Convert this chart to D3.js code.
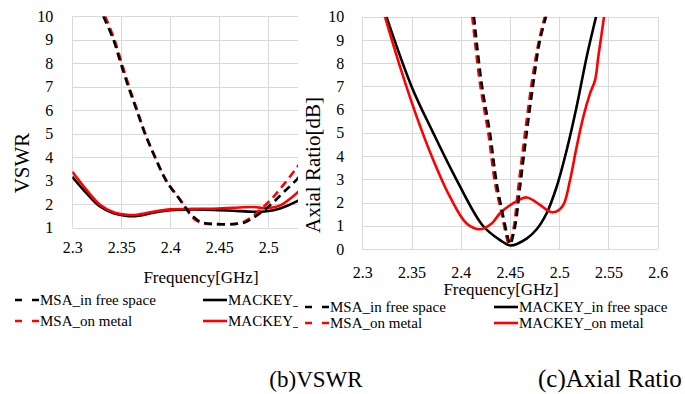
<!DOCTYPE html>
<html>
<head>
<meta charset="utf-8">
<script src="https://cdn.jsdelivr.net/npm/d3@7"></script>
<style>
  html, body { margin: 0; padding: 0; background: #fff; }
  text { font-family: "Liberation Serif", "Times New Roman", serif; fill: #000; }
</style>
</head>
<body>
<svg id="chart" width="685" height="394"></svg>
<script>
// ---- data ----
const seriesNames = ['MSA_in free space', 'MSA_on metal', 'MACKEY_in free space', 'MACKEY_on metal'];
const seriesColors = ['#000', '#f00', '#000', '#f00'];
const seriesDashed = [true, true, false, false];

// (b) VSWR
const vswrFreqMsaFree = [2.3316, 2.342, 2.3494, 2.3572, 2.3657, 2.3742, 2.3844, 2.3963, 2.41, 2.42, 2.4303, 2.444, 2.4643, 2.4745, 2.4847, 2.495, 2.5051, 2.5153, 2.529, 2.54];
const vswrMsaFree     = [10, 9.0, 8.0, 7.0, 6.0, 5.0, 4.0, 2.96, 2.18, 1.62, 1.26, 1.16, 1.16, 1.2, 1.42, 1.72, 2.08, 2.5, 3.05, 3.6];
const vswrFreqMsaMetal = [2.3335, 2.343, 2.3505, 2.358, 2.3662, 2.3745, 2.3845, 2.396, 2.41, 2.418, 2.425, 2.435, 2.45, 2.465, 2.475, 2.485, 2.495, 2.505, 2.515, 2.529, 2.54];
const vswrMsaMetal     = [10, 9.0, 8.0, 7.0, 6.0, 5.0, 4.0, 3.0, 2.2, 1.7, 1.35, 1.18, 1.15, 1.15, 1.25, 1.52, 1.88, 2.3, 2.8, 3.55, 4.2];
const vswrFreqMackey = [2.3, 2.3147, 2.3283, 2.342, 2.3555, 2.366, 2.3827, 2.4, 2.4248, 2.449, 2.4646, 2.4847, 2.4984, 2.512, 2.529, 2.54];
const vswrMackeyFree  = [3.17, 2.46, 1.9, 1.61, 1.5, 1.5, 1.64, 1.75, 1.78, 1.75, 1.72, 1.68, 1.7, 1.82, 2.12, 2.4];
const vswrMackeyMetal = [3.38, 2.6, 1.98, 1.66, 1.55, 1.55, 1.68, 1.78, 1.8, 1.82, 1.85, 1.88, 1.83, 1.95, 2.47, 2.9];

// (c) Axial ratio
const arFreqMsaFree = [2.4134, 2.4212, 2.4297, 2.4365, 2.4432, 2.4475, 2.45, 2.4551, 2.4602, 2.4669, 2.4737, 2.4805, 2.4906];
const arMsaFree     = [10, 7.13, 4.98, 2.83, 1.39, 0.55, 0.2, 0.96, 2.68, 4.98, 7.13, 9.0, 10.6];
const arFreqMsaMetal = [2.4117, 2.4195, 2.428, 2.4348, 2.4415, 2.4466, 2.449, 2.4534, 2.4585, 2.4652, 2.472, 2.4788, 2.4872];
const arMsaMetal     = [10, 7.13, 4.98, 2.83, 1.54, 0.5, 0.2, 0.82, 2.68, 4.98, 7.13, 8.85, 10.3];
const arFreqMackeyFree = [2.3245, 2.35, 2.372, 2.3955, 2.4225, 2.44, 2.4505, 2.4669, 2.4771, 2.4872, 2.4974, 2.5076, 2.5177, 2.5279, 2.5374];
const arMackeyFree     = [10, 7.0, 5.0, 3.0, 1.0, 0.38, 0.15, 0.45, 0.85, 1.54, 2.68, 4.26, 6.13, 8.28, 10];
const arFreqMackeyMetal = [2.323, 2.3383, 2.3552, 2.3721, 2.389, 2.406, 2.4195, 2.4314, 2.4398, 2.4534, 2.4669, 2.4805, 2.4906, 2.4974, 2.5042, 2.511, 2.5177, 2.5245, 2.5313, 2.5364, 2.5397, 2.5431, 2.5455];
const arMackeyMetal     = [10, 7.85, 5.7, 3.83, 2.25, 1.1, 0.85, 1.1, 1.54, 1.97, 2.22, 1.9, 1.6, 1.62, 1.9, 2.97, 4.4, 5.7, 6.7, 7.27, 8.28, 9.28, 10];

const vswrTicksX = [2.3, 2.35, 2.4, 2.45, 2.5];
const vswrGridX = [2.3, 2.35, 2.4, 2.45, 2.5, 2.55];
const vswrTicksY = [1, 2, 3, 4, 5, 6, 7, 8, 9, 10];
const arTicksX = [2.3, 2.35, 2.4, 2.45, 2.5, 2.55, 2.6];
const arTicksY = [0, 1, 2, 3, 4, 5, 6, 7, 8, 9, 10];

const zip = (xs, ys) => xs.map((x, i) => [x, ys[i]]);

const svg = d3.select('#chart');
const grid = '#d9d9d9';
const FONT = '"Liberation Serif", "Times New Roman", serif';

function drawPanel(g, o) {
  const { x, y, gridX, labelsX, ticksY, series, clipId, padY, padX } = o;
  const [x0, x1] = x.range();
  const [y0, y1] = y.range();

  g.append('clipPath').attr('id', clipId)
    .append('rect').attr('x', x0).attr('y', y1).attr('width', x1 - x0).attr('height', y0 - y1);

  // gridlines
  g.append('g').selectAll('line').data(ticksY).join('line')
    .attr('x1', x0).attr('x2', x1)
    .attr('y1', d => Math.round(y(d)) + 0.5).attr('y2', d => Math.round(y(d)) + 0.5)
    .attr('stroke', grid).attr('stroke-width', 1);
  g.append('g').selectAll('line').data(gridX).join('line')
    .attr('y1', y0).attr('y2', y1)
    .attr('x1', d => Math.round(x(d)) + 0.5).attr('x2', d => Math.round(x(d)) + 0.5)
    .attr('stroke', grid).attr('stroke-width', 1);

  // tick labels via axes
  const ax = g.append('g').attr('transform', `translate(${x0},0)`)
    .call(d3.axisLeft(y).tickValues(ticksY).tickSize(0).tickPadding(padY).tickFormat(d3.format('')));
  const bx = g.append('g').attr('transform', `translate(0,${y0})`)
    .call(d3.axisBottom(x).tickValues(labelsX).tickSize(0).tickPadding(padX).tickFormat(d => String(+d.toFixed(2))));
  [ax, bx].forEach(a => {
    a.select('.domain').remove();
    a.selectAll('text').attr('font-size', 16).style('font-family', FONT).attr('fill', '#000');
  });

  const line = d3.line().x(d => x(d[0])).y(d => y(d[1])).curve(d3.curveCatmullRom.alpha(0.5));
  g.append('g').attr('clip-path', `url(#${clipId})`)
    .selectAll('path').data(series).join('path')
    .attr('d', d => line(d.pts))
    .attr('fill', 'none')
    .attr('stroke', d => d.color)
    .attr('stroke-width', 2.6)
    .attr('stroke-dasharray', d => d.dashed ? '8,5' : null);
}

function drawLegend(g, items, cols, rows) {
  items.forEach((it, i) => {
    const c = cols[i < 2 ? 0 : 1], r = rows[i % 2];
    g.append('line').attr('x1', c).attr('x2', c + 24).attr('y1', r - 5).attr('y2', r - 5)
      .attr('stroke', it.color).attr('stroke-width', 2.6)
      .attr('stroke-dasharray', it.dashed ? '7,10' : null);
    g.append('text').attr('x', c + 25).attr('y', r).attr('font-size', 15).style('font-family', FONT).text(it.name);
  });
}

// ---- left panel (b) VSWR, cropped at the right edge ----
svg.append('clipPath').attr('id', 'leftCrop').append('rect').attr('x', 0).attr('y', 0).attr('width', 298).attr('height', 340);
const left = svg.append('g').attr('clip-path', 'url(#leftCrop)');
const xL = d3.scaleLinear().domain([2.3, 2.55]).range([72.3, 317.3]);
const yL = d3.scaleLinear().domain([1, 10]).range([227.7, 16.3]);
const vswrSeries = [
  { pts: zip(vswrFreqMackey, vswrMackeyFree), color: seriesColors[2], dashed: false },
  { pts: zip(vswrFreqMackey, vswrMackeyMetal), color: seriesColors[3], dashed: false },
  { pts: zip(vswrFreqMsaMetal, vswrMsaMetal), color: seriesColors[1], dashed: true },
  { pts: zip(vswrFreqMsaFree, vswrMsaFree), color: seriesColors[0], dashed: true }
];
drawPanel(left, { x: xL, y: yL, gridX: vswrGridX, labelsX: vswrTicksX, ticksY: vswrTicksY, series: vswrSeries, clipId: 'plotL', padY: 19, padX: 14 });
left.append('text').attr('transform', 'translate(29,163) rotate(-90)').attr('text-anchor', 'middle').attr('font-size', 21).style('font-family', FONT).text('VSWR');
left.append('text').attr('x', 201).attr('y', 283).attr('text-anchor', 'middle').attr('font-size', 17).style('font-family', FONT).text('Frequency[GHz]');
// the MACKEY entries are cut off by the panel crop, as in the source figure
drawLegend(left, ['MSA_in free space', 'MSA_on metal', 'MACKEY_', 'MACKEY_'].map((n, i) => ({ name: n, color: seriesColors[i], dashed: seriesDashed[i] })), [15, 203], [305, 326]);

// ---- right panel (c) Axial ratio ----
const right = svg.append('g');
const xR = d3.scaleLinear().domain([2.3, 2.6]).range([362.3, 657.7]);
const yR = d3.scaleLinear().domain([0, 10]).range([249, 16.7]);
const arSeries = [
  { pts: zip(arFreqMackeyFree, arMackeyFree), color: seriesColors[2], dashed: false },
  { pts: zip(arFreqMackeyMetal, arMackeyMetal), color: seriesColors[3], dashed: false },
  { pts: zip(arFreqMsaMetal, arMsaMetal), color: seriesColors[1], dashed: true },
  { pts: zip(arFreqMsaFree, arMsaFree), color: seriesColors[0], dashed: true }
];
drawPanel(right, { x: xR, y: yR, gridX: arTicksX, labelsX: arTicksX, ticksY: arTicksY, series: arSeries, clipId: 'plotR', padY: 18, padX: 18 });
right.append('text').attr('transform', 'translate(320,165) rotate(-90)').attr('text-anchor', 'middle').attr('font-size', 21).style('font-family', FONT).text('Axial Ratio[dB]');
right.append('text').attr('x', 501).attr('y', 295).attr('text-anchor', 'middle').attr('font-size', 17).style('font-family', FONT).text('Frequency[GHz]');
drawLegend(right, seriesNames.map((n, i) => ({ name: n, color: seriesColors[i], dashed: seriesDashed[i] })), [305, 494], [312, 328]);

// captions
svg.append('text').attr('x', 316).attr('y', 387).attr('text-anchor', 'middle').attr('font-size', 23).style('font-family', FONT).text('(b)VSWR');
svg.append('text').attr('x', 538).attr('y', 387).attr('font-size', 25).style('font-family', FONT).text('(c)Axial Ratio');
</script>
</body>
</html>
